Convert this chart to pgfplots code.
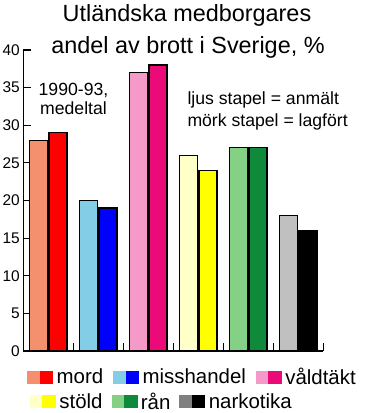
\documentclass[border=0pt]{standalone}
\usepackage{fontspec}
\setmainfont{Liberation Sans}
\usepackage{pgfplots}
\pgfplotsset{compat=1.18}
\definecolor{mordL}{HTML}{F5906E}
\definecolor{mordD}{HTML}{FF0000}
\definecolor{missL}{HTML}{84CDE6}
\definecolor{missD}{HTML}{0000FF}
\definecolor{valdL}{HTML}{F59AC8}
\definecolor{valdD}{HTML}{EA0A78}
\definecolor{stoldL}{HTML}{FFFFC8}
\definecolor{stoldD}{HTML}{FFFF00}
\definecolor{ranL}{HTML}{84D084}
\definecolor{ranD}{HTML}{0E8A3A}
\definecolor{narkL}{HTML}{C0C0C0}
\definecolor{narkLeg}{HTML}{808080}
\definecolor{narkD}{HTML}{000000}
\pgfplotsset{
  swatch/.style 2 args={legend image code/.code={%
    \fill[#1] (0bp,-6bp) rectangle (12.5bp,6bp);
    \fill[#2] (12.5bp,-6bp) rectangle (25bp,6bp);}},
  commongeom/.style={at={(23.3bp,62bp)}, anchor=south west,
    scale only axis, width=300bp, height=301bp,
    xmin=-0.5, xmax=5.5, ymin=0, ymax=40},
  lightbar/.style={ybar, bar width=18bp, bar shift=-9.8bp, draw=black, line width=1.2bp, fill=#1},
  darkbar/.style={ybar, bar width=18bp, bar shift=9.8bp, draw=black, line width=1.2bp, fill=#1},
  legrow/.style 2 args={commongeom, hide axis,
    legend style={at={(axis description cs:#1)}, anchor=west, draw=none, fill=none,
      inner sep=0pt, outer sep=0pt, font=\fontsize{20.5}{22}\selectfont,
      nodes={inner sep=0pt},
      /tikz/every odd column/.append style={column sep=4bp},
      /tikz/every even column/.append style={column sep=#2}},
    legend columns=3, legend cell align=left},
}
\begin{document}
\begin{tikzpicture}
\path[use as bounding box] (0,0) rectangle (365bp,413bp);
\begin{axis}[commongeom,
  axis x line*=bottom, axis y line*=left,
  ytick={0,5,...,40}, xtick={0.5,1.5,...,5.5}, xticklabels={},
  tick align=inside, major tick length=7.5bp,
  tick style={line width=1.2bp, black},
  axis line style={line width=1.5bp},
  yticklabel style={font=\fontsize{15.5}{16}\selectfont, /pgf/number format/assume math mode=true},
  clip=false]
\addplot[lightbar=mordL] coordinates {(0,28)};
\addplot[darkbar=mordD] coordinates {(0,29)};
\addplot[lightbar=missL] coordinates {(1,20)};
\addplot[darkbar=missD] coordinates {(1,19)};
\addplot[lightbar=valdL] coordinates {(2,37)};
\addplot[darkbar=valdD] coordinates {(2,38)};
\addplot[lightbar=stoldL] coordinates {(3,26)};
\addplot[darkbar=stoldD] coordinates {(3,24)};
\addplot[lightbar=ranL] coordinates {(4,27)};
\addplot[darkbar=ranD] coordinates {(4,27)};
\addplot[lightbar=narkL] coordinates {(5,18)};
\addplot[darkbar=narkD] coordinates {(5,16)};
\end{axis}
\begin{axis}[legrow={{0.0133,-0.0864}}{10bp}]
\addlegendimage{swatch={mordL}{mordD}}
\addlegendentry{mord}
\addlegendimage{swatch={missL}{missD}}
\addlegendentry{misshandel}
\addlegendimage{swatch={valdL}{valdD}}
\addlegendentry{våldtäkt}
\end{axis}
\begin{axis}[legrow={{0.0223,-0.168}}{9bp}]
\addlegendimage{swatch={stoldL}{stoldD}}
\addlegendentry{stöld}
\addlegendimage{swatch={ranL}{ranD}}
\addlegendentry{rån}
\addlegendimage{swatch={narkLeg}{narkD}}
\addlegendentry{narkotika}
\end{axis}
\begin{scope}[every node/.style={inner sep=0pt, outer sep=0pt}]
\node[anchor=base, font=\fontsize{23.5}{26}\selectfont] at (187bp,391.3bp) {Utländska medborgares};
\node[anchor=base, font=\fontsize{23.5}{26}\selectfont] at (188bp,359bp) {andel av brott i Sverige, \%};
\node[anchor=base, font=\fontsize{17.7}{20}\selectfont] at (73.5bp,317bp) {1990-93,};
\node[anchor=base, font=\fontsize{17.7}{20}\selectfont] at (73.5bp,298bp) {medeltal};
\node[anchor=base west, font=\fontsize{17.7}{20}\selectfont] at (187.5bp,308.7bp) {ljus stapel = anmält};
\node[anchor=base west, font=\fontsize{17.7}{20}\selectfont] at (187.5bp,286.3bp) {mörk stapel = lagfört};
\end{scope}
\end{tikzpicture}
\end{document}
